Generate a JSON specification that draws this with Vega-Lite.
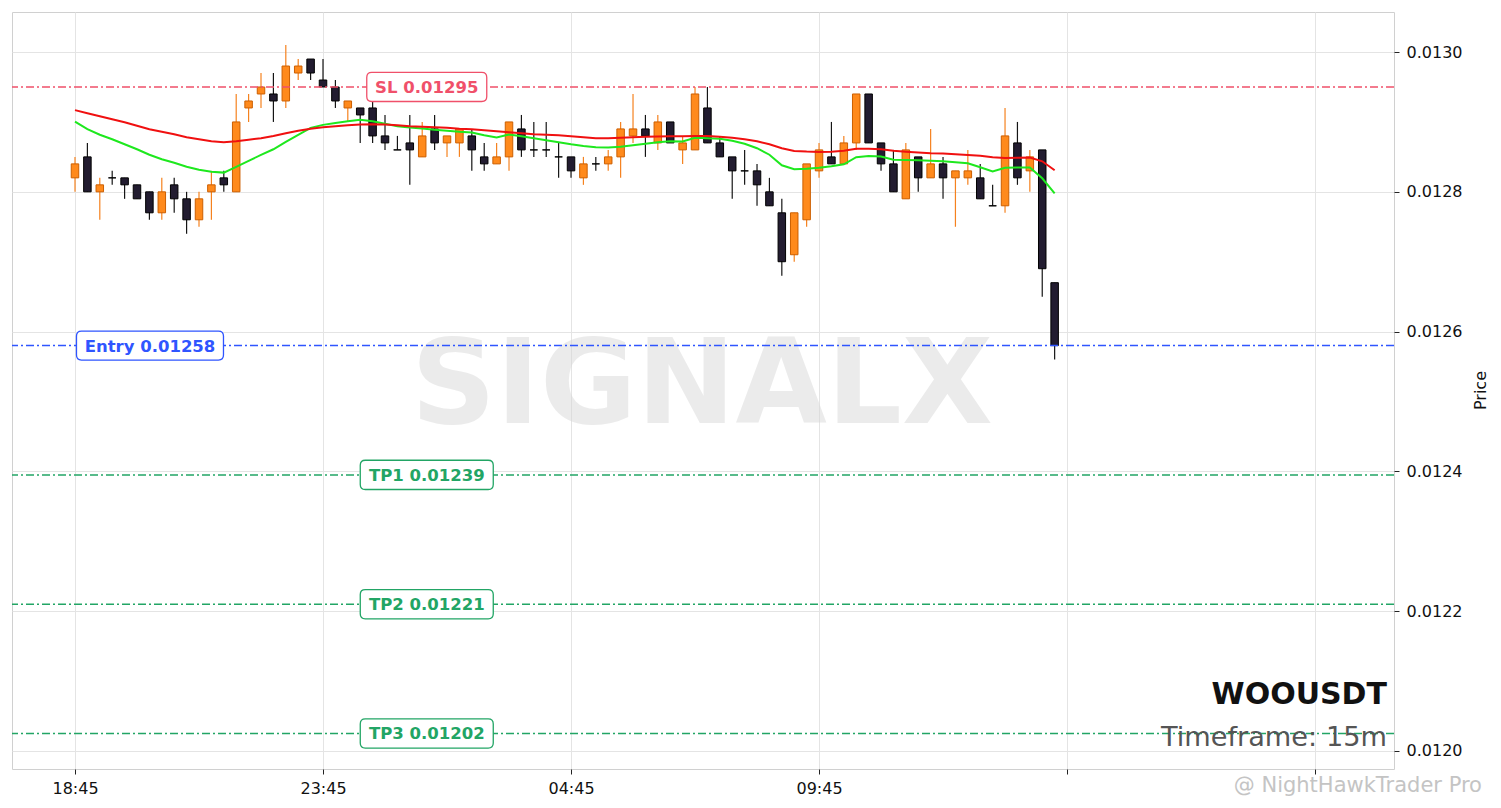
{
  "$schema": "https://vega.github.io/schema/vega-lite/v6.json",
  "width": 1382,
  "height": 757,
  "autosize": {"type": "none"},
  "padding": {"left": 12, "top": 12, "right": 107, "bottom": 39},
  "background": "white",
  "config": {
    "font": "DejaVu Sans",
    "view": {"stroke": "#d0d0d0", "strokeWidth": 1},
    "axis": {
      "labelFont": "DejaVu Sans", "titleFont": "DejaVu Sans",
      "labelFontSize": 16, "titleFontSize": 16,
      "labelColor": "#111111", "titleColor": "#111111", "titleFontWeight": "normal",
      "gridColor": "#e4e4e4", "gridWidth": 1, "domain": false,
      "tickColor": "#222222", "tickSize": 5
    }
  },
  "datasets": {
    "candles": [
      {"time":"2025-01-01T18:45","open":0.01282,"high":0.01285,"low":0.01280,"close":0.01284,"fast":0.0129004,"slow":0.0129169},
      {"time":"2025-01-01T19:00","open":0.01285,"high":0.01287,"low":0.01280,"close":0.01280,"fast":0.0128896,"slow":0.0129125},
      {"time":"2025-01-01T19:15","open":0.01280,"high":0.01282,"low":0.01276,"close":0.01281,"fast":0.0128817,"slow":0.0129082},
      {"time":"2025-01-01T19:30","open":0.01282,"high":0.01283,"low":0.01281,"close":0.01282,"fast":0.0128753,"slow":0.0129039},
      {"time":"2025-01-01T19:45","open":0.01282,"high":0.01282,"low":0.01279,"close":0.01281,"fast":0.0128681,"slow":0.0128996},
      {"time":"2025-01-01T20:00","open":0.01281,"high":0.01281,"low":0.01279,"close":0.01279,"fast":0.0128609,"slow":0.0128946},
      {"time":"2025-01-01T20:15","open":0.01280,"high":0.01280,"low":0.01276,"close":0.01277,"fast":0.0128531,"slow":0.0128896},
      {"time":"2025-01-01T20:30","open":0.01277,"high":0.01282,"low":0.01276,"close":0.01280,"fast":0.0128466,"slow":0.0128860},
      {"time":"2025-01-01T20:45","open":0.01281,"high":0.01282,"low":0.01277,"close":0.01279,"fast":0.0128416,"slow":0.0128824},
      {"time":"2025-01-01T21:00","open":0.01279,"high":0.01280,"low":0.01274,"close":0.01276,"fast":0.0128358,"slow":0.0128781},
      {"time":"2025-01-01T21:15","open":0.01276,"high":0.01280,"low":0.01275,"close":0.01279,"fast":0.0128315,"slow":0.0128753},
      {"time":"2025-01-01T21:30","open":0.01280,"high":0.01283,"low":0.01276,"close":0.01281,"fast":0.0128287,"slow":0.0128724},
      {"time":"2025-01-01T21:45","open":0.01282,"high":0.01283,"low":0.01280,"close":0.01281,"fast":0.0128275,"slow":0.0128710},
      {"time":"2025-01-01T22:00","open":0.01280,"high":0.01294,"low":0.01280,"close":0.01290,"fast":0.0128358,"slow":0.0128724},
      {"time":"2025-01-01T22:15","open":0.01292,"high":0.01294,"low":0.01290,"close":0.01293,"fast":0.0128444,"slow":0.0128746},
      {"time":"2025-01-01T22:30","open":0.01294,"high":0.01297,"low":0.01292,"close":0.01295,"fast":0.0128528,"slow":0.0128767},
      {"time":"2025-01-01T22:45","open":0.01294,"high":0.01297,"low":0.01290,"close":0.01293,"fast":0.0128609,"slow":0.0128800},
      {"time":"2025-01-01T23:00","open":0.01293,"high":0.01301,"low":0.01292,"close":0.01298,"fast":0.0128714,"slow":0.0128839},
      {"time":"2025-01-01T23:15","open":0.01297,"high":0.01299,"low":0.01296,"close":0.01298,"fast":0.0128814,"slow":0.0128875},
      {"time":"2025-01-01T23:30","open":0.01299,"high":0.01299,"low":0.01296,"close":0.01297,"fast":0.0128915,"slow":0.0128903},
      {"time":"2025-01-01T23:45","open":0.01296,"high":0.01299,"low":0.01295,"close":0.01295,"fast":0.0128958,"slow":0.0128925},
      {"time":"2025-01-02T00:00","open":0.01295,"high":0.01296,"low":0.01292,"close":0.01293,"fast":0.0128986,"slow":0.0128939},
      {"time":"2025-01-02T00:15","open":0.01292,"high":0.01293,"low":0.01290,"close":0.01293,"fast":0.0129011,"slow":0.0128953},
      {"time":"2025-01-02T00:30","open":0.01292,"high":0.01292,"low":0.01287,"close":0.01291,"fast":0.0129032,"slow":0.0128963},
      {"time":"2025-01-02T00:45","open":0.01292,"high":0.01293,"low":0.01287,"close":0.01288,"fast":0.0129011,"slow":0.0128968},
      {"time":"2025-01-02T01:00","open":0.01288,"high":0.01291,"low":0.01286,"close":0.01287,"fast":0.0128975,"slow":0.0128963},
      {"time":"2025-01-02T01:15","open":0.01286,"high":0.01288,"low":0.01286,"close":0.01286,"fast":0.0128939,"slow":0.0128953},
      {"time":"2025-01-02T01:30","open":0.01287,"high":0.01291,"low":0.01281,"close":0.01286,"fast":0.0128922,"slow":0.0128939},
      {"time":"2025-01-02T01:45","open":0.01285,"high":0.01290,"low":0.01285,"close":0.01288,"fast":0.0128905,"slow":0.0128932},
      {"time":"2025-01-02T02:00","open":0.01289,"high":0.01291,"low":0.01286,"close":0.01287,"fast":0.0128889,"slow":0.0128925},
      {"time":"2025-01-02T02:15","open":0.01287,"high":0.01288,"low":0.01285,"close":0.01288,"fast":0.0128875,"slow":0.0128918},
      {"time":"2025-01-02T02:30","open":0.01287,"high":0.01289,"low":0.01285,"close":0.01289,"fast":0.0128860,"slow":0.0128903},
      {"time":"2025-01-02T02:45","open":0.01288,"high":0.01289,"low":0.01283,"close":0.01286,"fast":0.0128849,"slow":0.0128896},
      {"time":"2025-01-02T03:00","open":0.01285,"high":0.01287,"low":0.01283,"close":0.01284,"fast":0.0128810,"slow":0.0128882},
      {"time":"2025-01-02T03:15","open":0.01284,"high":0.01287,"low":0.01284,"close":0.01285,"fast":0.0128777,"slow":0.0128867},
      {"time":"2025-01-02T03:30","open":0.01285,"high":0.01290,"low":0.01283,"close":0.01290,"fast":0.0128820,"slow":0.0128853},
      {"time":"2025-01-02T03:45","open":0.01289,"high":0.01291,"low":0.01285,"close":0.01286,"fast":0.0128796,"slow":0.0128839},
      {"time":"2025-01-02T04:00","open":0.01286,"high":0.01290,"low":0.01285,"close":0.01286,"fast":0.0128767,"slow":0.0128824},
      {"time":"2025-01-02T04:15","open":0.01286,"high":0.01290,"low":0.01285,"close":0.01286,"fast":0.0128738,"slow":0.0128817},
      {"time":"2025-01-02T04:30","open":0.01285,"high":0.01287,"low":0.01282,"close":0.01285,"fast":0.0128710,"slow":0.0128810},
      {"time":"2025-01-02T04:45","open":0.01285,"high":0.01285,"low":0.01282,"close":0.01283,"fast":0.0128681,"slow":0.0128796},
      {"time":"2025-01-02T05:00","open":0.01282,"high":0.01285,"low":0.01281,"close":0.01284,"fast":0.0128657,"slow":0.0128781},
      {"time":"2025-01-02T05:15","open":0.01284,"high":0.01285,"low":0.01283,"close":0.01284,"fast":0.0128638,"slow":0.0128767},
      {"time":"2025-01-02T05:30","open":0.01284,"high":0.01286,"low":0.01283,"close":0.01285,"fast":0.0128634,"slow":0.0128767},
      {"time":"2025-01-02T05:45","open":0.01285,"high":0.01290,"low":0.01282,"close":0.01289,"fast":0.0128645,"slow":0.0128774},
      {"time":"2025-01-02T06:00","open":0.01288,"high":0.01294,"low":0.01287,"close":0.01289,"fast":0.0128667,"slow":0.0128781},
      {"time":"2025-01-02T06:15","open":0.01289,"high":0.01291,"low":0.01285,"close":0.01288,"fast":0.0128688,"slow":0.0128789},
      {"time":"2025-01-02T06:30","open":0.01287,"high":0.01291,"low":0.01286,"close":0.01290,"fast":0.0128710,"slow":0.0128791},
      {"time":"2025-01-02T06:45","open":0.01290,"high":0.01290,"low":0.01287,"close":0.01287,"fast":0.0128724,"slow":0.0128796},
      {"time":"2025-01-02T07:00","open":0.01286,"high":0.01288,"low":0.01284,"close":0.01287,"fast":0.0128720,"slow":0.0128796},
      {"time":"2025-01-02T07:15","open":0.01286,"high":0.01295,"low":0.01286,"close":0.01294,"fast":0.0128774,"slow":0.0128800},
      {"time":"2025-01-02T07:30","open":0.01292,"high":0.01295,"low":0.01287,"close":0.01287,"fast":0.0128767,"slow":0.0128800},
      {"time":"2025-01-02T07:45","open":0.01287,"high":0.01288,"low":0.01285,"close":0.01285,"fast":0.0128760,"slow":0.0128789},
      {"time":"2025-01-02T08:00","open":0.01285,"high":0.01285,"low":0.01279,"close":0.01283,"fast":0.0128731,"slow":0.0128774},
      {"time":"2025-01-02T08:15","open":0.01283,"high":0.01286,"low":0.01281,"close":0.01283,"fast":0.0128688,"slow":0.0128753},
      {"time":"2025-01-02T08:30","open":0.01283,"high":0.01284,"low":0.01278,"close":0.01281,"fast":0.0128624,"slow":0.0128724},
      {"time":"2025-01-02T08:45","open":0.01280,"high":0.01282,"low":0.01278,"close":0.01278,"fast":0.0128531,"slow":0.0128681},
      {"time":"2025-01-02T09:00","open":0.01277,"high":0.01279,"low":0.01268,"close":0.01270,"fast":0.0128380,"slow":0.0128624},
      {"time":"2025-01-02T09:15","open":0.01271,"high":0.01277,"low":0.01270,"close":0.01277,"fast":0.0128323,"slow":0.0128585},
      {"time":"2025-01-02T09:30","open":0.01276,"high":0.01284,"low":0.01275,"close":0.01284,"fast":0.0128330,"slow":0.0128576},
      {"time":"2025-01-02T09:45","open":0.01283,"high":0.01287,"low":0.01282,"close":0.01286,"fast":0.0128344,"slow":0.0128571},
      {"time":"2025-01-02T10:00","open":0.01285,"high":0.01290,"low":0.01284,"close":0.01284,"fast":0.0128366,"slow":0.0128574},
      {"time":"2025-01-02T10:15","open":0.01284,"high":0.01288,"low":0.01284,"close":0.01287,"fast":0.0128394,"slow":0.0128588},
      {"time":"2025-01-02T10:30","open":0.01287,"high":0.01294,"low":0.01286,"close":0.01294,"fast":0.0128495,"slow":0.0128617},
      {"time":"2025-01-02T10:45","open":0.01294,"high":0.01294,"low":0.01287,"close":0.01287,"fast":0.0128513,"slow":0.0128617},
      {"time":"2025-01-02T11:00","open":0.01287,"high":0.01287,"low":0.01283,"close":0.01284,"fast":0.0128505,"slow":0.0128609},
      {"time":"2025-01-02T11:15","open":0.01284,"high":0.01286,"low":0.01280,"close":0.01280,"fast":0.0128459,"slow":0.0128588},
      {"time":"2025-01-02T11:30","open":0.01279,"high":0.01287,"low":0.01279,"close":0.01286,"fast":0.0128456,"slow":0.0128574},
      {"time":"2025-01-02T11:45","open":0.01285,"high":0.01285,"low":0.01280,"close":0.01282,"fast":0.0128452,"slow":0.0128562},
      {"time":"2025-01-02T12:00","open":0.01282,"high":0.01289,"low":0.01282,"close":0.01284,"fast":0.0128444,"slow":0.0128552},
      {"time":"2025-01-02T12:15","open":0.01284,"high":0.01285,"low":0.01279,"close":0.01282,"fast":0.0128437,"slow":0.0128548},
      {"time":"2025-01-02T12:30","open":0.01282,"high":0.01283,"low":0.01275,"close":0.01283,"fast":0.0128423,"slow":0.0128538},
      {"time":"2025-01-02T12:45","open":0.01282,"high":0.01286,"low":0.01281,"close":0.01283,"fast":0.0128409,"slow":0.0128528},
      {"time":"2025-01-02T13:00","open":0.01282,"high":0.01284,"low":0.01279,"close":0.01279,"fast":0.0128351,"slow":0.0128516},
      {"time":"2025-01-02T13:15","open":0.01278,"high":0.01281,"low":0.01278,"close":0.01278,"fast":0.0128290,"slow":0.0128495},
      {"time":"2025-01-02T13:30","open":0.01278,"high":0.01292,"low":0.01277,"close":0.01288,"fast":0.0128344,"slow":0.0128485},
      {"time":"2025-01-02T13:45","open":0.01287,"high":0.01290,"low":0.01281,"close":0.01282,"fast":0.0128347,"slow":0.0128488},
      {"time":"2025-01-02T14:00","open":0.01283,"high":0.01286,"low":0.01280,"close":0.01285,"fast":0.0128347,"slow":0.0128490},
      {"time":"2025-01-02T14:15","open":0.01286,"high":0.01286,"low":0.01265,"close":0.01269,"fast":0.0128194,"slow":0.0128437},
      {"time":"2025-01-02T14:30","open":0.01267,"high":0.01267,"low":0.01256,"close":0.01258,"fast":0.0127979,"slow":0.0128308}
    ],
    "levels": [
      {"kind":"SL","price":0.01295,"label":"SL 0.01295"},
      {"kind":"Entry","price":0.01258,"label":"Entry 0.01258"},
      {"kind":"TP","price":0.012395,"label":"TP1 0.01239"},
      {"kind":"TP","price":0.01221,"label":"TP2 0.01221"},
      {"kind":"TP","price":0.012025,"label":"TP3 0.01202"}
    ]
  },
  "layer": [
    {
      "data": {"name": "candles"},
      "mark": {"type": "rule", "strokeWidth": 1.2},
      "encoding": {
        "x": {
          "field": "time", "type": "temporal", "title": null,
          "scale": {"domain": [{"year": 2025, "month": 1, "date": 1, "hours": 17, "minutes": 28, "seconds": 48}, {"year": 2025, "month": 1, "date": 2, "hours": 21, "minutes": 20, "seconds": 30}], "nice": false, "padding": 0},
          "axis": {
            "title": null, "grid": true, "labelPadding": 6, "labelFlush": false, "labelOverlap": false,
            "values": [
              {"year": 2025, "month": 1, "date": 1, "hours": 18, "minutes": 45},
              {"year": 2025, "month": 1, "date": 1, "hours": 23, "minutes": 45},
              {"year": 2025, "month": 1, "date": 2, "hours": 4, "minutes": 45},
              {"year": 2025, "month": 1, "date": 2, "hours": 9, "minutes": 45},
              {"year": 2025, "month": 1, "date": 2, "hours": 14, "minutes": 45},
              {"year": 2025, "month": 1, "date": 2, "hours": 19, "minutes": 45}
            ],
            "labelExpr": "(hours(datum.value) == 14 || hours(datum.value) == 19) ? '' : timeFormat(datum.value, '%H:%M')"
          }
        },
        "y": {
          "field": "low", "type": "quantitative", "title": "Price",
          "scale": {"domain": [0.0119742, 0.0130573], "zero": false, "nice": false, "padding": 0},
          "axis": {
            "orient": "right", "values": [0.012, 0.0122, 0.0124, 0.0126, 0.0128, 0.013], "format": ".4f",
            "title": "Price", "titleAngle": 270, "titleX": 86, "titleY": 378, "titleAlign": "center", "titleBaseline": "middle",
            "labelPadding": 7, "grid": true
          }
        },
        "y2": {"field": "high"},
        "color": {"condition": {"test": "datum.close > datum.open", "value": "#f5821f"}, "value": "#151515"}
      }
    },
    {
      "data": {"values": [{}]},
      "mark": {"type": "text", "text": "SIGNALX", "font": "DejaVu Sans", "fontWeight": "bold", "fontSize": 118, "fill": "#d8d8d8", "opacity": 0.5, "align": "center", "baseline": "alphabetic"},
      "encoding": {
        "x": {"datum": {"year": 2025, "month": 1, "date": 2, "hours": 7, "minutes": 23, "seconds": 30}, "type": "temporal", "title": null},
        "y": {"datum": 0.0124694, "type": "quantitative", "title": "Price"}
      }
    },
    {
      "data": {"name": "candles"},
      "mark": {"type": "bar", "width": 7.5, "strokeWidth": 1},
      "encoding": {
        "x": {"field": "time", "type": "temporal", "title": null},
        "y": {"field": "open", "type": "quantitative", "title": "Price"},
        "y2": {"field": "close"},
        "fill": {"condition": {"test": "datum.close > datum.open", "value": "#ff8a1c"}, "value": "#221c30"},
        "stroke": {"condition": {"test": "datum.close > datum.open", "value": "#cc5f00"}, "value": "#000000"}
      }
    },
    {
      "data": {"name": "candles"},
      "mark": {"type": "line", "color": "#1ee81e", "strokeWidth": 2},
      "encoding": {
        "x": {"field": "time", "type": "temporal", "title": null},
        "y": {"field": "fast", "type": "quantitative", "title": "Price"}
      }
    },
    {
      "data": {"name": "candles"},
      "mark": {"type": "line", "color": "#f01010", "strokeWidth": 2},
      "encoding": {
        "x": {"field": "time", "type": "temporal", "title": null},
        "y": {"field": "slow", "type": "quantitative", "title": "Price"}
      }
    },
    {
      "data": {"name": "levels"},
      "mark": {"type": "rule", "strokeWidth": 1.5, "strokeDash": [8, 3, 2, 3]},
      "encoding": {
        "y": {"field": "price", "type": "quantitative", "title": "Price"},
        "color": {"field": "kind", "type": "nominal", "scale": {"domain": ["SL", "Entry", "TP"], "range": ["#f0506a", "#2f55ff", "#22a565"]}, "legend": null}
      }
    },
    {
      "data": {"name": "levels"},
      "transform": [{"filter": "datum.kind == 'SL'"}],
      "mark": {"type": "point", "shape": "M-0.917,-0.242L0.917,-0.242Q1,-0.242 1,-0.159L1,0.159Q1,0.242 0.917,0.242L-0.917,0.242Q-1,0.242 -1,0.159L-1,-0.159Q-1,-0.242 -0.917,-0.242Z", "size": 14400, "filled": true, "fill": "#ffffff", "opacity": 1, "fillOpacity": 1, "strokeWidth": 1.3},
      "encoding": {
        "x": {"datum": {"year": 2025, "month": 1, "date": 2, "hours": 1, "minutes": 50, "seconds": 30}, "type": "temporal", "title": null},
        "y": {"field": "price", "type": "quantitative", "title": "Price"},
        "stroke": {"field": "kind", "type": "nominal", "scale": {"domain": ["SL", "Entry", "TP"], "range": ["#f0506a", "#2f55ff", "#22a565"]}, "legend": null}
      }
    },
    {
      "data": {"name": "levels"},
      "transform": [{"filter": "datum.kind == 'Entry'"}],
      "mark": {"type": "point", "shape": "M-0.932,-0.197L0.932,-0.197Q1,-0.197 1,-0.129L1,0.129Q1,0.197 0.932,0.197L-0.932,0.197Q-1,0.197 -1,0.129L-1,-0.129Q-1,-0.197 -0.932,-0.197Z", "size": 21609, "filled": true, "fill": "#ffffff", "opacity": 1, "fillOpacity": 1, "strokeWidth": 1.3},
      "encoding": {
        "x": {"datum": {"year": 2025, "month": 1, "date": 1, "hours": 20, "minutes": 15, "seconds": 42}, "type": "temporal", "title": null},
        "y": {"field": "price", "type": "quantitative", "title": "Price"},
        "stroke": {"field": "kind", "type": "nominal", "scale": {"domain": ["SL", "Entry", "TP"], "range": ["#f0506a", "#2f55ff", "#22a565"]}, "legend": null}
      }
    },
    {
      "data": {"name": "levels"},
      "transform": [{"filter": "datum.kind == 'TP'"}],
      "mark": {"type": "point", "shape": "M-0.924,-0.22L0.924,-0.22Q1,-0.22 1,-0.144L1,0.144Q1,0.22 0.924,0.22L-0.924,0.22Q-1,0.22 -1,0.144L-1,-0.144Q-1,-0.22 -0.924,-0.22Z", "size": 17689, "filled": true, "fill": "#ffffff", "opacity": 1, "fillOpacity": 1, "strokeWidth": 1.3},
      "encoding": {
        "x": {"datum": {"year": 2025, "month": 1, "date": 2, "hours": 1, "minutes": 50, "seconds": 30}, "type": "temporal", "title": null},
        "y": {"field": "price", "type": "quantitative", "title": "Price"},
        "stroke": {"field": "kind", "type": "nominal", "scale": {"domain": ["SL", "Entry", "TP"], "range": ["#f0506a", "#2f55ff", "#22a565"]}, "legend": null}
      }
    },
    {
      "data": {"name": "levels"},
      "transform": [{"filter": "datum.kind != 'Entry'"}],
      "mark": {"type": "text", "font": "DejaVu Sans", "fontWeight": "bold", "fontSize": 16.5, "align": "center", "baseline": "middle", "dy": 1},
      "encoding": {
        "x": {"datum": {"year": 2025, "month": 1, "date": 2, "hours": 1, "minutes": 50, "seconds": 30}, "type": "temporal", "title": null},
        "y": {"field": "price", "type": "quantitative", "title": "Price"},
        "text": {"field": "label"},
        "color": {"field": "kind", "type": "nominal", "scale": {"domain": ["SL", "Entry", "TP"], "range": ["#f0506a", "#2f55ff", "#22a565"]}, "legend": null}
      }
    },
    {
      "data": {"name": "levels"},
      "transform": [{"filter": "datum.kind == 'Entry'"}],
      "mark": {"type": "text", "font": "DejaVu Sans", "fontWeight": "bold", "fontSize": 16.5, "align": "center", "baseline": "middle", "dy": 1},
      "encoding": {
        "x": {"datum": {"year": 2025, "month": 1, "date": 1, "hours": 20, "minutes": 15, "seconds": 42}, "type": "temporal", "title": null},
        "y": {"field": "price", "type": "quantitative", "title": "Price"},
        "text": {"field": "label"},
        "color": {"field": "kind", "type": "nominal", "scale": {"domain": ["SL", "Entry", "TP"], "range": ["#f0506a", "#2f55ff", "#22a565"]}, "legend": null}
      }
    },
    {
      "data": {"values": [{}]},
      "mark": {"type": "text", "text": "WOOUSDT", "font": "DejaVu Sans", "fontWeight": "bold", "fontSize": 30, "color": "#111111", "align": "right", "baseline": "alphabetic"},
      "encoding": {
        "x": {"datum": {"year": 2025, "month": 1, "date": 2, "hours": 21, "minutes": 12}, "type": "temporal", "title": null},
        "y": {"datum": 0.0120673, "type": "quantitative", "title": "Price"}
      }
    },
    {
      "data": {"values": [{}]},
      "mark": {"type": "text", "text": "Timeframe: 15m", "font": "DejaVu Sans", "fontSize": 27.2, "color": "#555555", "align": "right", "baseline": "alphabetic"},
      "encoding": {
        "x": {"datum": {"year": 2025, "month": 1, "date": 2, "hours": 21, "minutes": 12}, "type": "temporal", "title": null},
        "y": {"datum": 0.0120072, "type": "quantitative", "title": "Price"}
      }
    },
    {
      "data": {"values": [{}]},
      "mark": {"type": "text", "text": "@ NightHawkTrader Pro", "font": "DejaVu Sans", "fontSize": 21, "color": "#c4c4c4", "align": "right", "baseline": "alphabetic"},
      "encoding": {
        "x": {"datum": {"year": 2025, "month": 1, "date": 2, "hours": 23, "minutes": 6, "seconds": 54}, "type": "temporal", "title": null},
        "y": {"datum": 0.0119413, "type": "quantitative", "title": "Price"}
      }
    }
  ]
}
